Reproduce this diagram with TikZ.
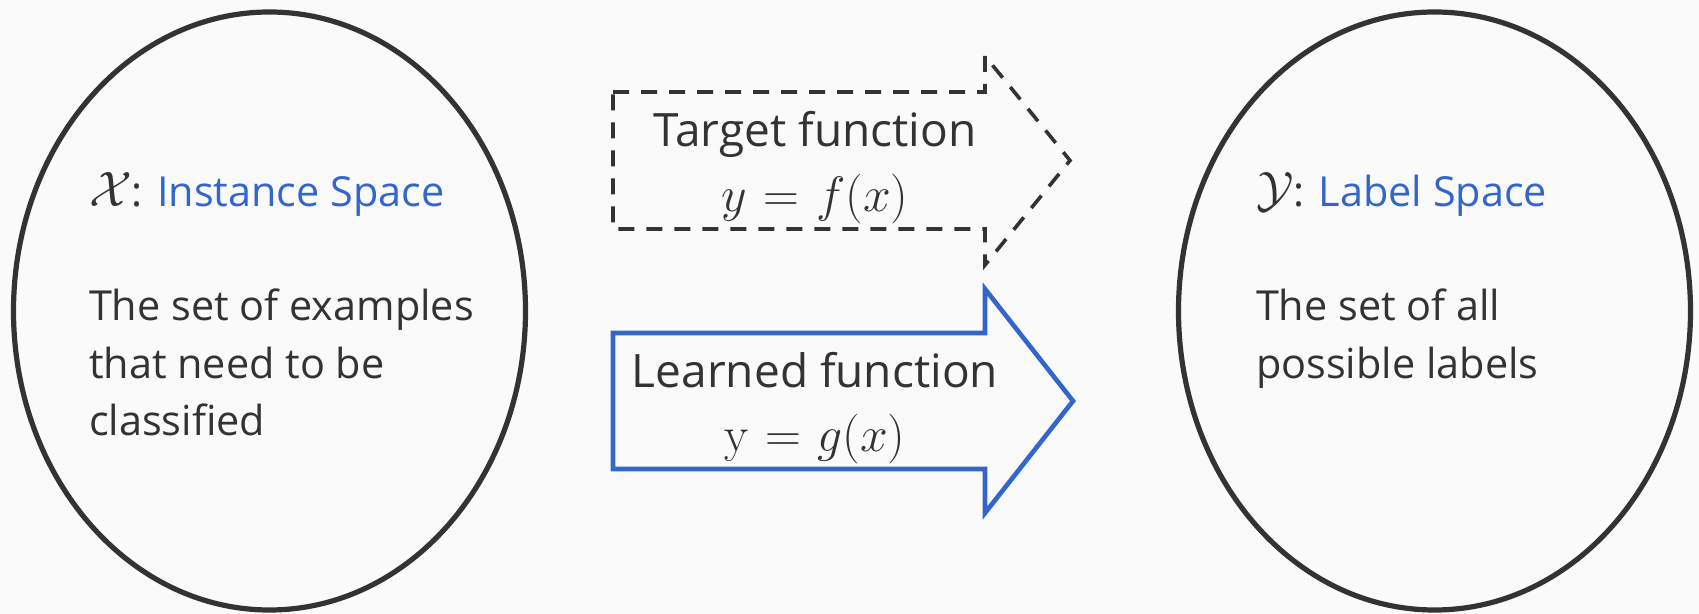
\documentclass[tikz,border=0pt]{standalone}
\usepackage[no-math]{fontspec}
\setmainfont{Open Sans}
\definecolor{ink}{HTML}{333333}
\definecolor{accent}{HTML}{3366CC}
\definecolor{paper}{HTML}{FAFAFA}
\tikzset{
  space/.style={draw=ink, line width=2.6pt},
  bodytext/.style={inner sep=0pt, outer sep=0pt, anchor=base west, text=ink,
    font=\fontsize{20.7}{24}\selectfont},
  arrowtext/.style={inner sep=0pt, outer sep=0pt, anchor=base, text=ink,
    font=\fontsize{23}{28}\selectfont},
  mathtext/.style={inner sep=0pt, outer sep=0pt, anchor=base, text=ink,
    font=\fontsize{26}{28}\selectfont},
  target/.style={draw=ink, line width=1.8pt, dash pattern=on 8pt off 6pt, line join=miter},
  learned/.style={draw=accent, line width=2.3pt, line join=miter},
}
\newcommand{\calsym}[1]{{\fontsize{24}{24}\selectfont$\mathcal{#1}$}}
\newcommand{\fnmath}[1]{$\thickmuskip=6mu\relax #1$}
\begin{document}
\begin{tikzpicture}[x=0.5pt, y=-0.5pt]
  % canvas
  \fill[paper] (0,0) rectangle (1699,614);
  \useasboundingbox (0,0) rectangle (1699,614);

  % the two spaces
  \coordinate (X) at (269.5,311);
  \coordinate (Y) at (1434.5,311);
  \draw[space] (X) ellipse [x radius=256, y radius=299];
  \draw[space] (Y) ellipse [x radius=256, y radius=299];

  % instance space text
  \node[bodytext] (xtitle) at (89,207) {\calsym{X}: \textcolor{accent}{Instance Space}};
  \node[bodytext] (xd1) at (89,321) {The set of examples};
  \node[bodytext] (xd2) at (89,379) {that need to be};
  \node[bodytext] (xd3) at (89,436) {classified};

  % label space text
  \node[bodytext] (ytitle) at (1256,207) {\calsym{Y}: \textcolor{accent}{Label Space}};
  \node[bodytext] (yd1) at (1256,321) {The set of all};
  \node[bodytext] (yd2) at (1256,379) {possible labels};

  % target function (dashed block arrow)
  \draw[target] (613,92) -- (985,92) -- (985,56) -- (1070,160.5) -- (985,265)
    -- (985,229) -- (613,229) -- cycle;
  \node[arrowtext] (ft) at (815,147) {Target function};
  \node[mathtext] (fm) at (815,212) {\fnmath{y=f(x)}};

  % learned function (solid block arrow)
  \draw[learned] (613,333) -- (985,333) -- (985,289) -- (1073,401) -- (985,513)
    -- (985,469) -- (613,469) -- cycle;
  \node[arrowtext] (gt) at (815,388) {Learned function};
  \node[mathtext] (gm) at (815,452) {\fnmath{\mathrm{y}=g(x)}};
\end{tikzpicture}
\end{document}
